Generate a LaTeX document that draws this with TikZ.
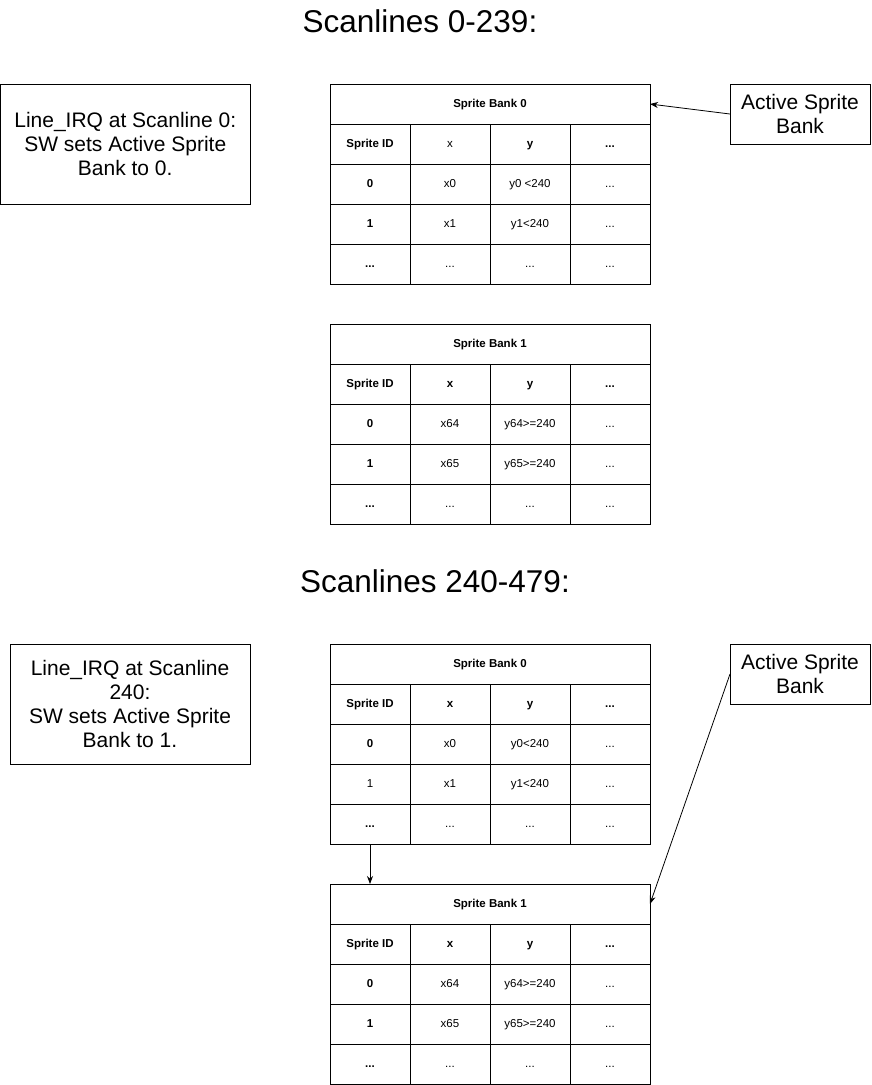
\documentclass[tikz,border=0pt]{standalone}
\usepackage{fontspec}
\setmainfont{Liberation Sans}
\usetikzlibrary{arrows.meta}
\tikzset{
  cell/.style={draw, line width=1pt, minimum width=80pt, minimum height=40pt, inner sep=0pt, outer sep=0pt, text height=8pt, text depth=2pt, font=\fontsize{11.5}{13}\selectfont},
  headcell/.style={cell, minimum width=320pt},
  note/.style={draw, line width=1pt, inner sep=0pt, outer sep=0pt, align=center, font=\fontsize{21}{24}\selectfont},
  title/.style={font=\fontsize{31.5}{36}\selectfont, inner sep=0pt},
  link/.style={line width=0.8pt, -{Stealth[length=8pt,width=6pt]}},
}
\newcommand{\tabrow}[7]{%
  \node[cell] (#1r#2c1) at (370,#3) {#4};
  \node[cell] (#1r#2c2) at (450,#3) {#5};
  \node[cell] (#1r#2c3) at (530,#3) {#6};
  \node[cell] (#1r#2c4) at (610,#3) {#7};}
\begin{document}
\begin{tikzpicture}[x=1pt,y=-1pt]
\useasboundingbox (0,0) rectangle (871,1085);
% titles
\node[title] (title1) at (420,21) {Scanlines 0-239:};
\node[title] (title2) at (435,581) {Scanlines 240-479:};
% left notes
\node[note, minimum width=249.5pt, minimum height=120pt] (note1) at (125.25,144)
  {Line\_IRQ at Scanline 0:\\SW sets Active Sprite\\Bank to 0.};
\node[note, minimum width=240pt, minimum height=120pt] (note2) at (130,704)
  {Line\_IRQ at Scanline\\240:\\SW sets Active Sprite\\Bank to 1.};
% active sprite bank boxes
\node[note, minimum width=140pt, minimum height=60pt] (asb1) at (800,114) {Active Sprite\\Bank};
\node[note, minimum width=140pt, minimum height=60pt] (asb2) at (800,674) {Active Sprite\\Bank};
% table 1
\node[headcell] (t1h) at (490,104) {\textbf{Sprite Bank 0}};
\tabrow{t1}{0}{144}{\textbf{Sprite ID}}{x}{\textbf{y}}{\textbf{...}}
\tabrow{t1}{1}{184}{\textbf{0}}{x0}{y0 <240}{...}
\tabrow{t1}{2}{224}{\textbf{1}}{x1}{y1<240}{...}
\tabrow{t1}{3}{264}{\textbf{...}}{...}{...}{...}
% table 2
\node[headcell] (t2h) at (490,344) {\textbf{Sprite Bank 1}};
\tabrow{t2}{0}{384}{\textbf{Sprite ID}}{\textbf{x}}{\textbf{y}}{\textbf{...}}
\tabrow{t2}{1}{424}{\textbf{0}}{x64}{y64>=240}{...}
\tabrow{t2}{2}{464}{\textbf{1}}{x65}{y65>=240}{...}
\tabrow{t2}{3}{504}{\textbf{...}}{...}{...}{...}
% table 3
\node[headcell] (t3h) at (490,664) {\textbf{Sprite Bank 0}};
\tabrow{t3}{0}{704}{\textbf{Sprite ID}}{\textbf{x}}{\textbf{y}}{\textbf{...}}
\tabrow{t3}{1}{744}{\textbf{0}}{x0}{y0<240}{...}
\tabrow{t3}{2}{784}{1}{x1}{y1<240}{...}
\tabrow{t3}{3}{824}{\textbf{...}}{...}{...}{...}
% table 4
\node[headcell] (t4h) at (490,904) {\textbf{Sprite Bank 1}};
\tabrow{t4}{0}{944}{\textbf{Sprite ID}}{\textbf{x}}{\textbf{y}}{\textbf{...}}
\tabrow{t4}{1}{984}{\textbf{0}}{x64}{y64>=240}{...}
\tabrow{t4}{2}{1024}{\textbf{1}}{x65}{y65>=240}{...}
\tabrow{t4}{3}{1064}{\textbf{...}}{...}{...}{...}
% connectors
\draw[link] (asb1.west) -- (t1h.east);
\draw[link] (asb2.west) -- (t4h.east);
\draw[link] (t3r3c1.south) -- (t3r3c1.south |- t4h.north);
\end{tikzpicture}
\end{document}
